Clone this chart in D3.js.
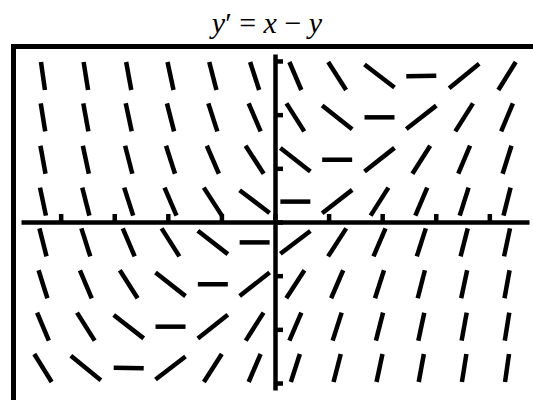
<!DOCTYPE html>
<html>
<head>
<meta charset="utf-8">
<script src="https://cdn.jsdelivr.net/npm/d3@7"></script>
<style>
  html, body { margin: 0; padding: 0; background: #fff; }
  svg { display: block; }
</style>
</head>
<body>
<svg id="chart" width="533" height="400"></svg>
<script>
// Slope field for the differential equation y' = x - y

// Window (data units)
const xWindow = [-4.74, 4.74];
const yWindow = [-3.13, 3.13];

// Sample points of the field: columns (x) and rows (y)
const fieldX = [-4.33, -3.53, -2.73, -1.95, -1.16, -0.38, 0.38, 1.16, 1.95, 2.73, 3.53, 4.33];
const fieldY = [2.72, 1.95, 1.16, 0.38, -0.38, -1.16, -1.95, -2.72];

// Integer tick values on each axis
const xTicks = [-4, -3, -2, -1, 0, 1, 2, 3, 4];
const yTicks = [-3, -2, -1, 0, 1, 2, 3];

// Right-hand side of the equation: the slope at (x, y)
const dydx = (x, y) => x - y;

const svg = d3.select("#chart");

const x = d3.scaleLinear().domain(xWindow).range([21, 529]);
const y = d3.scaleLinear().domain(yWindow).range([390, 54]);

// Title
svg.append("text")
  .attr("x", 267)
  .attr("y", 33)
  .attr("text-anchor", "middle")
  .attr("font-family", "'Liberation Serif', 'Times New Roman', serif")
  .attr("font-size", 30)
  .attr("fill", "#000")
  .html('<tspan font-style="italic">y</tspan><tspan>\u2032 = </tspan><tspan font-style="italic">x</tspan><tspan> \u2212 </tspan><tspan font-style="italic">y</tspan>');

// Plot frame (top and left edges visible; the rest runs off the page)
svg.append("rect")
  .attr("x", 13.5)
  .attr("y", 46.5)
  .attr("width", 600)
  .attr("height", 600)
  .attr("fill", "none")
  .attr("stroke", "#000")
  .attr("stroke-width", 5);

// Axes through the origin, ticks pointing toward the positive side
const xAxis = d3.axisBottom(x)
  .tickValues(xTicks)
  .tickSizeInner(-8)
  .tickSizeOuter(0)
  .tickFormat("");
const yAxis = d3.axisLeft(y)
  .tickValues(yTicks)
  .tickSizeInner(-8)
  .tickSizeOuter(0)
  .tickFormat("");

const gx = svg.append("g")
  .attr("transform", `translate(0,${y(0)})`)
  .call(xAxis);
const gy = svg.append("g")
  .attr("transform", `translate(${x(0)},0)`)
  .call(yAxis);

[gx, gy].forEach(g => {
  g.select(".domain").attr("stroke", "#000").attr("stroke-width", 4.5);
  g.selectAll(".tick line").attr("stroke", "#000").attr("stroke-width", 4.5);
});

// Slope segments: each is centred on its sample point and clipped to a small cell
const halfW = 15, halfH = 14;
const kx = x(1) - x(0);
const ky = y(0) - y(1);

const points = [];
fieldY.forEach(yv => fieldX.forEach(xv => points.push({ x: xv, y: yv, m: dydx(xv, yv) })));

svg.append("g")
  .selectAll("line")
  .data(points)
  .join("line")
  .each(function (d) {
    const cx = x(d.x), cy = y(d.y);
    const mp = d.m * ky / kx;              // slope in screen units
    const t = Math.abs(mp) < 1e-9 ? halfW : Math.min(halfW, halfH / Math.abs(mp));
    d3.select(this)
      .attr("x1", cx - t).attr("y1", cy + mp * t)
      .attr("x2", cx + t).attr("y2", cy - mp * t);
  })
  .attr("stroke", "#000")
  .attr("stroke-width", 4.5)
  .attr("stroke-linecap", "butt");
</script>
</body>
</html>
